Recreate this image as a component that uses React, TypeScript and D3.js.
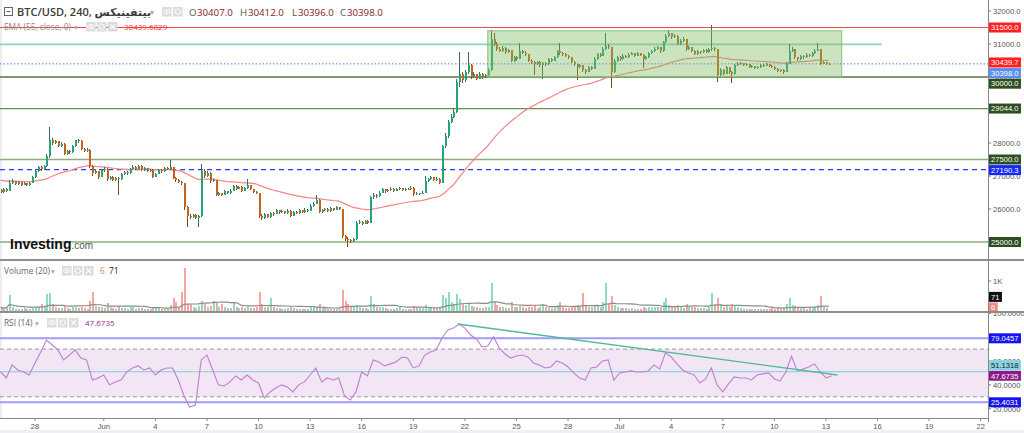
import React from "react";
import * as d3 from "d3";

// ---------- DATA ----------
const START = Date.UTC(2023, 4, 26, 0, 0);
const STEP = 4 * 3600 * 1000;
const firstOpen = 26580;

const closes = [
  26520, 26600, 26560, 26790, 26840, 26760, 26810, 26740, 26790, 26730,
  26800, 26960, 27150, 27260, 27200, 27300, 27600, 28100, 28000, 28050,
  27920, 27980, 27680, 27760, 27720, 27900, 28080, 28060, 27820, 27760,
  27800, 27300, 27080, 27150, 26980, 27180, 27220, 26900, 26960, 26880,
  26950, 26900, 27050, 27120, 27080, 27200, 27280, 27220, 27300, 27180,
  27230, 27160, 27190, 26980, 27070, 27180, 27140, 27250, 27200, 27260,
  26950, 26880, 26820, 26780, 26050, 25800, 25760, 25820, 25740, 25780,
  27150, 27000, 27100, 26850, 26880, 26420, 26480, 26420, 26540, 26480,
  26560, 26700, 26620, 26680, 26560, 26640, 26720, 26600, 26520, 26480,
  25800, 25720, 25840, 25760, 25880, 25860, 25960, 25900, 25930, 25880,
  25950, 25800, 25920, 25880, 25960, 25900, 25980, 25940, 26100, 26160,
  26280, 25900, 25960, 26000, 25940, 26020, 25980, 26050, 26000, 25180,
  25100, 25060, 25020, 25080, 25580, 25620, 25560, 25640, 25580, 26350,
  26420, 26380, 26500, 26600, 26540, 26580, 26620, 26560, 26600, 26640,
  26580, 26620, 26600, 26650, 26440, 26480, 26460, 26500, 26850, 26900,
  26960, 26880, 26920, 26800, 27900, 28200, 28650, 28800, 28950, 29850,
  30100, 29900, 30150, 30350, 30000, 30080, 29950, 30100, 30000, 30050,
  30200, 31150, 31000, 30850, 30800, 30880, 30750, 30820, 30500, 30600,
  30550, 30780, 30740, 30700, 30500, 30450, 30400, 30460, 30350, 30420,
  30380, 30550, 30500, 30600, 30780, 30720, 30700, 30640, 30600, 30450,
  30380, 30300, 30350, 30200, 30160, 30300, 30250, 30550, 30700, 30650,
  30850, 30950, 30900, 30150, 30500, 30600, 30550, 30650, 30600, 30680,
  30720, 30650, 30720, 30680, 30540, 30600, 30720, 30780, 30850, 30900,
  30780, 31050, 31250, 31320, 31200, 31250, 31000, 31100, 31150, 30850,
  30900, 30800, 30700, 30780, 30750, 30820, 30760, 30850, 30880, 30850,
  30050, 30200, 30100, 30300, 30150, 30080, 30350, 30400, 30420, 30350,
  30380, 30300, 30320, 30260, 30300, 30360, 30340, 30380, 30320, 30300,
  30250, 30180, 30220, 30160, 30400, 30800, 30850, 30600, 30550, 30650,
  30600, 30680, 30640, 30720, 30800, 30850, 30400, 30450, 30407, 30398,
];

const highs = [
  26620, 26650, 26640, 26880, 26900, 26860, 26850, 26830, 26820, 26800,
  26830, 27000, 27200, 27300, 27290, 27340, 27680, 28480, 28150, 28100,
  28060, 28020, 28000, 27800, 27790, 27940, 28100, 28120, 28080, 27860,
  27840, 27820, 27320, 27200, 27160, 27220, 27260, 27230, 27000, 26990,
  26980, 26980, 27080, 27160, 27150, 27240, 27320, 27300, 27330, 27320,
  27270, 27250, 27220, 27200, 27100, 27210, 27200, 27280, 27270, 27480,
  27270, 26970, 26900, 26860, 26800, 26080, 25850, 25860, 25840, 25820,
  27350, 27200, 27160, 27110, 26920, 26890, 26520, 26500, 26580, 26560,
  26600, 26740, 26720, 26710, 26690, 26670, 26900, 26730, 26620, 26560,
  26490, 25850, 25880, 25860, 25920, 25920, 26000, 25980, 25960, 25950,
  25990, 25960, 25950, 25940, 25990, 25970, 26020, 26000, 26140, 26200,
  26420, 26290, 26000, 26040, 26020, 26060, 26040, 26080, 26070, 26010,
  25220, 25140, 25100, 25120, 25640, 25680, 25640, 25680, 25660, 26400,
  26480, 26450, 26540, 26650, 26620, 26620, 26660, 26640, 26630, 26680,
  26650, 26650, 26640, 26700, 26660, 26520, 26500, 26540, 27000, 26940,
  27000, 26970, 26960, 26930, 27950, 28300, 28700, 28880, 29050, 29950,
  30760, 30150, 30200, 30760, 30380, 30150, 30100, 30150, 30120, 30100,
  30260, 31420, 31330, 31050, 30900, 30950, 30900, 30860, 30830, 30650,
  30640, 31030, 30820, 30780, 30710, 30540, 30480, 30500, 30480, 30460,
  30440, 30580, 30580, 30640, 30820, 31030, 30760, 30720, 30660, 30620,
  30470, 30400, 30400, 30360, 30240, 30340, 30320, 30600, 30740, 30730,
  30900, 31330, 31000, 30920, 30560, 30640, 30630, 30690, 30680, 30720,
  30760, 30740, 30760, 30740, 30700, 30640, 30760, 30820, 30900, 30950,
  30910, 31100, 31300, 31430, 31340, 31290, 31260, 31140, 31200, 31160,
  30950, 30920, 30820, 30820, 30800, 30860, 30840, 30880, 31570, 30900,
  30860, 30260, 30230, 30340, 30310, 30170, 30400, 30440, 30460, 30430,
  30420, 30400, 30360, 30340, 30330, 30400, 30380, 30420, 30390, 30350,
  30320, 30270, 30250, 30240, 30440, 31000, 30900, 30860, 30620, 30680,
  30670, 30720, 30700, 30760, 30840, 31030, 30860, 30500, 30460, 30412,
];

const lows = [
  26480, 26500, 26520, 26540, 26760, 26720, 26740, 26700, 26720, 26690,
  26700, 26780, 26940, 27120, 27160, 27170, 27280, 27560, 27950, 27960,
  27880, 27880, 27640, 27650, 27660, 27700, 27880, 28000, 27790, 27720,
  27720, 27250, 27000, 27050, 26920, 26960, 27130, 26860, 26880, 26840,
  26860, 26420, 26880, 27020, 27040, 27060, 27180, 27190, 27200, 27150,
  27160, 27130, 27130, 26940, 26960, 27050, 27100, 27120, 27170, 27180,
  26920, 26830, 26780, 26740, 25980, 25450, 25700, 25730, 25700, 25450,
  25760, 26950, 26980, 26800, 26810, 26380, 26400, 26380, 26410, 26440,
  26460, 26540, 26580, 26600, 26530, 26540, 26620, 26570, 26480, 26440,
  25720, 25660, 25700, 25720, 25740, 25800, 25840, 25860, 25870, 25850,
  25860, 25770, 25780, 25850, 25860, 25870, 25890, 25910, 25930, 26060,
  26140, 25870, 25880, 25930, 25910, 25920, 25950, 25960, 25960, 25120,
  25040, 24850, 24980, 24990, 25060, 25540, 25520, 25540, 25540, 25570,
  26300, 26330, 26360, 26480, 26500, 26510, 26560, 26530, 26540, 26580,
  26550, 26560, 26570, 26580, 26400, 26420, 26430, 26440, 26480, 26820,
  26870, 26850, 26860, 26760, 26790, 27850, 28150, 28600, 28750, 28900,
  29700, 29820, 29850, 30100, 29950, 29960, 29900, 29930, 29940, 29960,
  30000, 30180, 30950, 30800, 30750, 30760, 30700, 30720, 30450, 30460,
  30500, 30540, 30700, 30640, 30460, 30400, 30050, 30360, 30300, 29950,
  30330, 30360, 30460, 30480, 30580, 30680, 30650, 30600, 30560, 30420,
  30340, 29900, 30260, 30150, 30100, 30140, 30200, 30240, 30520, 30600,
  30640, 30820, 30850, 29670, 30120, 30460, 30500, 30530, 30570, 30590,
  30660, 30620, 30640, 30650, 30280, 30520, 30580, 30700, 30760, 30830,
  30740, 30770, 31030, 31220, 31160, 31180, 30960, 30980, 31070, 30800,
  30820, 30760, 30660, 30680, 30700, 30730, 30720, 30740, 30800, 30800,
  29850, 30000, 30060, 30080, 30100, 29830, 30060, 30320, 30370, 30320,
  30330, 30270, 30280, 30230, 30240, 30280, 30300, 30320, 30290, 30260,
  30220, 30150, 30160, 30080, 30140, 30380, 30760, 30560, 30500, 30530,
  30560, 30580, 30600, 30620, 30700, 30780, 30350, 30380, 30350, 30396,
];

const volumes = [
  120, 90, 110, 530, 150, 80, 70, 60, 90, 70,
  80, 110, 150, 120, 230, 140, 570, 600, 220, 130,
  110, 90, 160, 100, 80, 120, 150, 100, 140, 90,
  80, 330, 630, 180, 150, 120, 110, 270, 130, 90,
  80, 180, 100, 90, 80, 150, 120, 80, 90, 100,
  70, 80, 60, 130, 90, 100, 70, 80, 90, 200,
  430, 300, 120, 630, 1440, 250, 200, 120, 100, 180,
  350, 250, 150, 170, 330, 280, 150, 230, 120, 100,
  90, 280, 120, 100, 130, 90, 140, 110, 90, 120,
  630, 250, 150, 130, 450, 120, 100, 90, 80, 70,
  90, 140, 100, 80, 70, 80, 60, 70, 120, 130,
  150, 250, 120, 90, 80, 70, 60, 80, 70, 700,
  350, 250, 150, 120, 200, 130, 100, 90, 80, 500,
  250, 150, 130, 120, 90, 80, 70, 60, 90, 150,
  80, 70, 60, 80, 180, 120, 90, 100, 200, 150,
  130, 110, 100, 150, 530, 450, 630, 300, 250, 570,
  400, 250, 200, 220, 180, 150, 120, 110, 100, 130,
  150, 930, 300, 200, 150, 120, 100, 90, 300, 150,
  120, 180, 130, 100, 150, 120, 200, 110, 130, 250,
  120, 150, 110, 130, 200, 300, 150, 100, 110, 150,
  140, 200, 150, 600, 180, 150, 120, 200, 180, 130,
  300, 930, 250, 500, 200, 150, 110, 100, 90, 80,
  90, 80, 70, 80, 150, 100, 120, 150, 130, 140,
  120, 300, 450, 200, 180, 150, 200, 130, 110, 250,
  130, 120, 150, 110, 90, 100, 80, 120, 600, 250,
  450, 220, 150, 180, 130, 250, 200, 120, 100, 80,
  70, 80, 70, 60, 70, 80, 60, 70, 80, 90,
  80, 100, 90, 120, 250, 450, 200, 180, 120, 100,
  90, 80, 100, 110, 120, 200, 500, 150, 90, 6,
];

// RSI(14) read every 8 hours (every 2nd candle)
const rsiValues = [
  50.8, 45.8, 56.7, 52.5, 50.8, 48.3, 58.4, 67.6, 77.6, 73.4,
  69.3, 60.9, 65, 69.3, 62.6, 60.9, 44.1, 45.8, 48.3, 40,
  42.5, 44.1, 50.8, 54.2, 55.9, 52.5, 54.2, 48.3, 52.5, 54.2,
  54.2, 44.1, 30.7, 21.5, 23.1, 60.9, 65, 52.5, 40, 39.1,
  42.5, 47.5, 44.1, 48.3, 44.1, 41.6, 29, 34.1, 37.4, 40,
  38.3, 34.1, 40, 42.5, 48.3, 54.2, 42.5, 45.8, 44.1, 45.8,
  30.7, 27.3, 34.1, 50.8, 47.5, 60.9, 59.2, 55.9, 57.6, 59.2,
  63.4, 62.6, 54.2, 55.9, 65, 67.6, 69.3, 79.1, 86, 87.6,
  91, 87.6, 81.8, 78.5, 71.8, 72.6, 80.2, 70.9, 65.9, 62.5,
  64.2, 65, 63.4, 58.4, 56.7, 54.2, 55, 60.1, 58.4, 55,
  50, 45.8, 44.1, 54.2, 55, 60.1, 60.9, 44.1, 50, 50.8,
  51.7, 50.8, 50.8, 51.7, 56.7, 53.4, 66.8, 63.4, 57.6, 52.5,
  50, 48.3, 41.6, 45, 54.2, 40, 34.1, 40.8, 46.7, 45.8,
  45.8, 44.1, 48.3, 49.2, 50, 45, 43.3, 50.8, 64, 51.7,
  53.4, 55, 57.6, 50.8, 45.8, 47.7,
];

const emaSeed = 26880;
const emaPeriod = 55;
const volMaPeriod = 20;

const priceTicks = [25000, 26000, 27000, 28000, 29000, 30000, 31000, 32000];
const rsiTicks = [20, 40, 60, 80, 100];
const volTicks = [1000];
const volTickLabels = ["1K"];
const dateTicks = [
  "2023-05-28", "2023-06-01", "2023-06-04", "2023-06-07", "2023-06-10",
  "2023-06-13", "2023-06-16", "2023-06-19", "2023-06-22", "2023-06-25",
  "2023-06-28", "2023-07-01", "2023-07-04", "2023-07-07", "2023-07-10",
  "2023-07-13", "2023-07-16", "2023-07-19", "2023-07-22",
];

const supportLevels = [30000, 29044, 27500, 25000];
const resistanceLevel = 31500;
const tealLevel = 30990;
const tealLevelEnd = "2023-07-16T06:00:00Z";
const dashedLevel = 27190.3;
const lastClose = 30398;
const emaLast = 30439.7;
const zoneStart = "2023-06-23T08:00:00Z";
const zoneEnd = "2023-07-13T22:00:00Z";
const zoneTop = 31400;
const zoneBottom = 30010;
const rsiBands = [79.0457, 25.4031];
const rsiMid = 51.1318;
const rsiLast = 47.6735;
const rsiTrendStart = ["2023-06-21T14:00:00Z", 91];
const rsiTrendEnd = ["2023-07-13T16:00:00Z", 48.3];
const volLast = 6;
const volMaLast = 71;

// ---------- HELPERS ----------
type Lbl = { y: number; text: string; bg: string; fg: string };
function placeLabels(items: Lbl[], gap: number, lo: number, hi: number) {
  const out: (Lbl & { py: number })[] = [];
  for (const it of items) {
    let py = Math.min(Math.max(it.y, lo), hi);
    for (let iter = 0; iter < 12; iter++) {
      let moved = false;
      for (const p of out) {
        if (Math.abs(py - p.py) < gap - 0.01) {
          let cand = py >= p.py ? p.py + gap : p.py - gap;
          if (cand > hi) cand = p.py - gap;
          if (cand < lo) cand = p.py + gap;
          py = cand;
          moved = true;
        }
      }
      if (!moved) break;
    }
    out.push({ ...it, py });
  }
  return out;
}

const AX_FS = 7.6;
function labelWidth(t: string) {
  let w = 0;
  for (const ch of t) w += ch === "." ? AX_FS * 0.278 : AX_FS * 0.556;
  return w + 5.5;
}

const UP = "#22a57d";
const DN = "#c4631c";
const UP_WICK = "#3f6b57";
const DN_WICK = "#7b4a22";

function Icon({ x, y, kind }: { x: number; y: number; kind: string }) {
  return (
    <g>
      <rect x={x} y={y} width={9.5} height={9.5} fill="#dcdcdc" />
      {kind === "eye" && <ellipse cx={x + 4.75} cy={y + 4.75} rx={3.3} ry={2.1} fill="none" stroke="#fff" strokeWidth={1} />}
      {kind === "eye" && <circle cx={x + 4.75} cy={y + 4.75} r={1} fill="#fff" />}
      {kind === "gear" && <circle cx={x + 4.75} cy={y + 4.75} r={2.6} fill="none" stroke="#fff" strokeWidth={1.6} strokeDasharray="1.4,0.8" />}
      {kind === "x" && (
        <path d={`M${x + 2.3},${y + 2.3}L${x + 7.2},${y + 7.2}M${x + 7.2},${y + 2.3}L${x + 2.3},${y + 7.2}`} stroke="#fff" strokeWidth={1.2} />
      )}
    </g>
  );
}

export default function App() {
  const W = 1024;
  const H = 433;
  const axisX = 988;
  const mainBottom = 259;
  const volTop = 262;
  const volBottom = 311;
  const rsiTop = 313;
  const rsiBottom = 418;

  const x = d3
    .scaleUtc()
    .domain([new Date(Date.UTC(2023, 4, 28)), new Date(Date.UTC(2023, 6, 22))])
    .range([35, 980.7]);
  const y = d3.scaleLinear().domain([25000, 32000]).range([242, 11]);
  const yv = d3.scaleLinear().domain([0, 1000]).range([volBottom, 281]);
  const yr = d3.scaleLinear().domain([25.4031, 79.0457]).range([402.3, 338.3]);

  const candles = closes.map((c, i) => {
    const o = i === 0 ? firstOpen : closes[i - 1];
    return {
      t: new Date(START + i * STEP),
      o,
      c,
      h: Math.max(highs[i], o, c),
      l: Math.min(lows[i], o, c),
      v: volumes[i],
    };
  });

  const alpha = 2 / (emaPeriod + 1);
  const emaVals: number[] = [];
  let e = emaSeed;
  for (const c of closes) {
    e = e + alpha * (c - e);
    emaVals.push(e);
  }
  const volMa = volumes.map((_, i) => d3.mean(volumes.slice(Math.max(0, i - volMaPeriod + 1), i + 1)) as number);

  const emaLine = d3
    .line<number>()
    .x((_, i) => x(candles[i].t))
    .y((d) => y(d))(emaVals) as string;
  const volMaLine = d3
    .line<number>()
    .x((_, i) => x(candles[i].t))
    .y((d) => yv(d))(volMa) as string;
  const rsiLine = d3
    .line<number>()
    .x((_, k) => x(new Date(START + k * 2 * STEP)))
    .y((d) => yr(d))(rsiValues) as string;

  const GAP = 10.6;
  const mainLabels = placeLabels(
    [
      { y: y(emaLast), text: "30439.7", bg: "#ff2020", fg: "#fff" },
      { y: y(resistanceLevel), text: "31500.0", bg: "#ff2020", fg: "#fff" },
      { y: y(lastClose), text: "30398.0", bg: "#5d8cf2", fg: "#fff" },
      ...supportLevels.map((v) => ({ y: y(v), text: v.toFixed(1), bg: "#2d4f1f", fg: "#fff" })),
      { y: y(dashedLevel), text: dashedLevel.toFixed(1), bg: "#1428ff", fg: "#fff" },
    ],
    GAP,
    6,
    253
  );
  const volLabels = placeLabels(
    [
      { y: yv(volLast), text: String(volLast), bg: "#f4867e", fg: "#fff" },
      { y: yv(volMaLast), text: String(volMaLast), bg: "#111", fg: "#fff" },
    ],
    GAP,
    268,
    307.5
  );
  const rsiLabels = placeLabels(
    [
      ...rsiBands.map((v) => ({ y: yr(v), text: v.toFixed(4), bg: "#1414ee", fg: "#fff" })),
      { y: yr(rsiLast), text: rsiLast.toFixed(4), bg: "#8a1a8c", fg: "#fff" },
      { y: yr(rsiMid), text: rsiMid.toFixed(4), bg: "#86d4e2", fg: "#222" },
    ],
    GAP,
    318,
    412
  );

  const fmtTick = (s: string) => {
    const d = new Date(s + "T00:00:00Z");
    return d.getUTCDate() === 1 ? d3.utcFormat("%b")(d) : String(d.getUTCDate());
  };

  const axisFont = "'Liberation Sans', Arial, sans-serif";
  const uiFont = "'Open Sans', 'DejaVu Sans', sans-serif";

  const drawLabel = (l: Lbl & { py: number }, i: number) => (
    <g key={i}>
      <rect x={axisX} y={l.py - 5} width={labelWidth(l.text)} height={10} fill={l.bg} />
      <text x={axisX + 3} y={l.py + 2.8} fontSize={AX_FS} fill={l.fg} fontFamily={axisFont}>
        {l.text}
      </text>
    </g>
  );

  return (
    <svg
      width={W}
      height={H}
      style={{ position: "absolute", left: 0, top: 0, background: "#fff" }}
      fontFamily={uiFont}
    >
      <defs>
        <clipPath id="cMain">
          <rect x={0} y={0} width={axisX} height={mainBottom} />
        </clipPath>
        <clipPath id="cVol">
          <rect x={0} y={volTop} width={axisX} height={volBottom - volTop + 1} />
        </clipPath>
        <clipPath id="cRsi">
          <rect x={0} y={rsiTop} width={axisX} height={rsiBottom - rsiTop} />
        </clipPath>
      </defs>
      <rect x={0} y={0} width={W} height={H} fill="#fff" />
      <rect x={0} y={0} width={2} height={rsiBottom} fill="#ececf2" />

      {/* ---------- MAIN PANEL ---------- */}
      <g clipPath="url(#cMain)">
        <line x1={0} x2={axisX} y1={y(resistanceLevel)} y2={y(resistanceLevel)} stroke="#f04848" strokeWidth={1.2} />
        <line x1={0} x2={x(new Date(tealLevelEnd))} y1={y(tealLevel)} y2={y(tealLevel)} stroke="#86d8c6" strokeWidth={1.6} />
        <line x1={0} x2={axisX} y1={y(lastClose)} y2={y(lastClose)} stroke="#5b7cf5" strokeWidth={1} strokeDasharray="1.5,2" />
        {supportLevels.map((v, i) => (
          <line
            key={i}
            x1={0}
            x2={axisX}
            y1={y(v)}
            y2={y(v)}
            stroke={i === 0 ? "#56793d" : i === 1 ? "#6c8c56" : "#8fac7c"}
            strokeWidth={i < 2 ? 1.3 : 1.7}
          />
        ))}
        <line x1={0} x2={axisX} y1={y(dashedLevel)} y2={y(dashedLevel)} stroke="#2f3ff2" strokeWidth={1.2} strokeDasharray="5,4" />
        <path d={emaLine} fill="none" stroke="#f28383" strokeWidth={1.2} />
        {candles.map((d, i) => {
          const cx = Math.round(x(d.t));
          const up = d.c >= d.o;
          const yt = y(Math.max(d.o, d.c));
          const yb = y(Math.min(d.o, d.c));
          return (
            <g key={i} shapeRendering="crispEdges">
              <line x1={cx + 0.5} x2={cx + 0.5} y1={y(d.h)} y2={y(d.l)} stroke={up ? UP_WICK : DN_WICK} strokeWidth={1} />
              <rect x={cx - 0.5} y={yt} width={2} height={Math.max(1, yb - yt)} fill={up ? UP : DN} />
            </g>
          );
        })}
        <rect
          x={x(new Date(zoneStart))}
          y={y(zoneTop)}
          width={x(new Date(zoneEnd)) - x(new Date(zoneStart))}
          height={y(zoneBottom) - y(zoneTop)}
          fill="#7fb860"
          fillOpacity={0.4}
          stroke="#8cbf77"
          strokeWidth={1}
        />
      </g>

      {/* header */}
      <g>
        <rect x={4.5} y={7.5} width={8} height={8} fill="#fff" stroke="#666" strokeWidth={1} />
        <line x1={6.5} x2={10.5} y1={11.5} y2={11.5} stroke="#666" strokeWidth={1} />
        <text x={17} y={16} fontSize={11} fontWeight={600} fill="#3a3a3a">
          BTC/USD, 240, بيتفينيكس
        </text>
        <text x={150} y={15} fontSize={8} fill="#aaa">▾</text>
        <Icon x={162} y={7} kind="eye" />
        <Icon x={173} y={7} kind="gear" />
        <g fontSize={9.7}>
          <text x={189} y={16} fill="#555">O</text>
          <text x={197} y={16} fill="#7e1c1c">30407.0</text>
          <text x={240} y={16} fill="#555">H</text>
          <text x={248} y={16} fill="#7e1c1c">30412.0</text>
          <text x={292} y={16} fill="#555">L</text>
          <text x={298} y={16} fill="#7e1c1c">30396.0</text>
          <text x={340} y={16} fill="#555">C</text>
          <text x={347} y={16} fill="#7e1c1c">30398.0</text>
        </g>
        <text x={4} y={30} fontSize={8.3} fill="#8a8a8a">EMA (55, close, 0)</text>
        <text x={74} y={30} fontSize={7.5} fill="#aaa">▾</text>
        <Icon x={86} y={22} kind="eye" />
        <Icon x={97} y={22} kind="gear" />
        <Icon x={108} y={22} kind="x" />
        <text x={124} y={30} fontSize={8} fill="#ff2b2b">30439.6829</text>
      </g>

      {/* logo */}
      <text x={10} y={249} fontSize={14} fontWeight={700} fill="#111" fontFamily="'Liberation Sans', Arial, sans-serif">
        Investing
        <tspan fontSize={10} fontWeight={400} fill="#555">.com</tspan>
      </text>

      {/* ---------- VOLUME PANEL ---------- */}
      <g clipPath="url(#cVol)">
        {candles.map((d, i) => {
          const cx = Math.round(x(d.t));
          const up = d.c >= d.o;
          return (
            <rect
              key={i}
              x={cx - 0.5}
              y={yv(d.v)}
              width={2}
              height={yv(0) - yv(d.v)}
              fill={up ? "#8fdcbf" : "#f6a7a4"}
              shapeRendering="crispEdges"
            />
          );
        })}
        <path d={volMaLine} fill="none" stroke="#8c8c8c" strokeWidth={1.2} />
      </g>
      <g>
        <text x={4} y={274} fontSize={8.3} fill="#666">Volume (20)</text>
        <text x={51} y={274} fontSize={7.5} fill="#aaa">▾</text>
        <Icon x={62} y={266} kind="eye" />
        <Icon x={73} y={266} kind="gear" />
        <Icon x={84} y={266} kind="x" />
        <text x={100} y={274} fontSize={8.3} fill="#f07a70">{volLast}</text>
        <text x={109} y={274} fontSize={8.3} fill="#222">{volMaLast}</text>
      </g>

      {/* ---------- RSI PANEL ---------- */}
      <g clipPath="url(#cRsi)">
        <rect x={0} y={yr(70)} width={axisX} height={yr(30) - yr(70)} fill="#f2e5f4" />
        <line x1={0} x2={axisX} y1={yr(70)} y2={yr(70)} stroke="#9a9a9a" strokeDasharray="4,3" />
        <line x1={0} x2={axisX} y1={yr(30)} y2={yr(30)} stroke="#9a9a9a" strokeDasharray="4,3" />
        {rsiBands.map((v, i) => (
          <line key={i} x1={0} x2={axisX} y1={yr(v)} y2={yr(v)} stroke="#9d9df6" strokeWidth={2} />
        ))}
        <line x1={0} x2={axisX} y1={yr(rsiMid)} y2={yr(rsiMid)} stroke="#92d6e2" strokeWidth={1.2} />
        <path d={rsiLine} fill="none" stroke="#bf7fcf" strokeWidth={1.1} />
        <line
          x1={x(new Date(rsiTrendStart[0] as string))}
          y1={yr(rsiTrendStart[1] as number)}
          x2={x(new Date(rsiTrendEnd[0] as string))}
          y2={yr(rsiTrendEnd[1] as number)}
          stroke="#52b898"
          strokeWidth={1.4}
        />
      </g>
      <g>
        <text x={4} y={326} fontSize={8.3} fill="#666">RSI (14)</text>
        <text x={35} y={326} fontSize={7.5} fill="#aaa">▾</text>
        <Icon x={47} y={318} kind="eye" />
        <Icon x={58} y={318} kind="gear" />
        <Icon x={69} y={318} kind="x" />
        <text x={85} y={326} fontSize={8} fill="#8b2a96">{rsiLast.toFixed(4)}</text>
      </g>

      {/* ---------- AXES ---------- */}
      <g fontFamily={axisFont} fontSize={AX_FS} fill="#555">
        {priceTicks.map((v) => (
          <g key={v}>
            <line x1={axisX} x2={axisX + 3} y1={y(v)} y2={y(v)} stroke="#777" />
            <text x={axisX + 5} y={y(v) + 2.8}>{v.toFixed(1)}</text>
          </g>
        ))}
        {volTicks.map((v, i) => (
          <g key={v}>
            <line x1={axisX} x2={axisX + 3} y1={yv(v)} y2={yv(v)} stroke="#777" />
            <text x={axisX + 5} y={yv(v) + 2.8}>{volTickLabels[i]}</text>
          </g>
        ))}
        {rsiTicks.map((v) => (
          <g key={v}>
            <line x1={axisX} x2={axisX + 3} y1={yr(v)} y2={yr(v)} stroke="#777" />
            <text x={axisX + 5} y={yr(v) + 2.8}>{v.toFixed(4)}</text>
          </g>
        ))}
      </g>
      {mainLabels.map(drawLabel)}
      {volLabels.map(drawLabel)}
      {rsiLabels.map(drawLabel)}

      {/* separators */}
      <rect x={0} y={259} width={W} height={2} fill="#8e8e8e" />
      <rect x={0} y={311} width={W} height={2} fill="#8e8e8e" />
      <line x1={axisX + 0.5} x2={axisX + 0.5} y1={0} y2={rsiBottom + 4} stroke="#888" />

      {/* x axis */}
      <line x1={0} x2={axisX} y1={rsiBottom + 0.5} y2={rsiBottom + 0.5} stroke="#888" />
      <g fontFamily={axisFont} fontSize={AX_FS} fill="#555" textAnchor="middle">
        {dateTicks.map((s) => {
          const tx = x(new Date(s + "T00:00:00Z"));
          return (
            <g key={s}>
              <line x1={tx} x2={tx} y1={rsiBottom} y2={rsiBottom + 3} stroke="#888" />
              <text x={tx} y={rsiBottom + 10.5}>{fmtTick(s)}</text>
            </g>
          );
        })}
      </g>
      <rect x={0} y={430} width={W} height={3} fill="#eef0f4" />
    </svg>
  );
}
